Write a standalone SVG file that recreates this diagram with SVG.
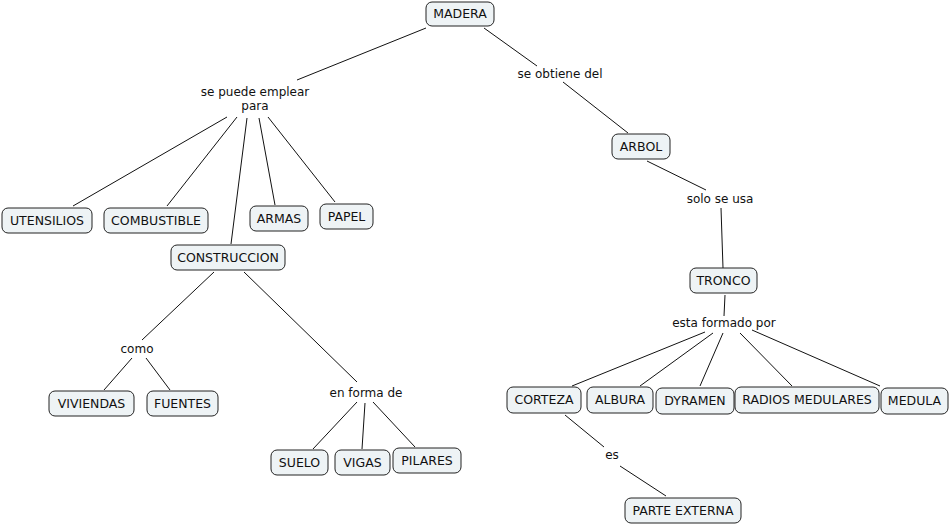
<svg xmlns="http://www.w3.org/2000/svg" width="951" height="526" viewBox="0 0 951 526">
<style>
.n rect{fill:#eef3f5;stroke:#222;stroke-width:1;}
text{font-family:"DejaVu Sans",Verdana,sans-serif;font-size:12px;fill:#111;text-anchor:middle;}
.n text{font-size:12.5px;}
.c line{stroke:#111;stroke-width:1;}
</style>
<rect width="951" height="526" fill="#fff"/>
<g class="c">
<line x1="426" y1="28" x2="297" y2="80"/>
<line x1="484" y1="28" x2="537" y2="66"/>
<line x1="563" y1="82" x2="628" y2="133"/>
<line x1="647" y1="161" x2="706" y2="190"/>
<line x1="721" y1="208" x2="723" y2="268"/>
<line x1="725" y1="295" x2="724" y2="316"/>
<line x1="705" y1="332" x2="572" y2="386"/>
<line x1="713" y1="333" x2="640" y2="386"/>
<line x1="723" y1="333" x2="700" y2="386"/>
<line x1="740" y1="333" x2="792" y2="386"/>
<line x1="752" y1="330" x2="880" y2="386"/>
<line x1="565" y1="415" x2="604" y2="447"/>
<line x1="620" y1="466" x2="666" y2="496"/>
<line x1="227" y1="117" x2="73" y2="206"/>
<line x1="237" y1="117" x2="167" y2="206"/>
<line x1="247" y1="118" x2="231" y2="244"/>
<line x1="259" y1="118" x2="275" y2="205"/>
<line x1="268" y1="117" x2="335" y2="202"/>
<line x1="214" y1="272" x2="142" y2="340"/>
<line x1="132" y1="358" x2="104" y2="390"/>
<line x1="146" y1="358" x2="170" y2="390"/>
<line x1="244" y1="272" x2="357" y2="382"/>
<line x1="357" y1="402" x2="313" y2="449"/>
<line x1="365" y1="403" x2="362" y2="449"/>
<line x1="373" y1="402" x2="415" y2="447"/>
</g>
<g id="labels">
<text x="255" y="96">se puede emplear</text>
<text x="255" y="110">para</text>
<text x="560" y="78">se obtiene del</text>
<text x="720" y="203">solo se usa</text>
<text x="724" y="327">esta formado por</text>
<text x="137" y="353">como</text>
<text x="366" y="397">en forma de</text>
<text x="612" y="459">es</text>
</g>
<g id="madera" class="n"><rect x="426" y="2" width="68" height="24" rx="6"/><text x="460" y="18">MADERA</text></g>
<g id="utensilios" class="n"><rect x="2" y="208" width="90" height="25" rx="6"/><text x="47" y="225">UTENSILIOS</text></g>
<g id="combustible" class="n"><rect x="104" y="208" width="104" height="25" rx="6"/><text x="156" y="225">COMBUSTIBLE</text></g>
<g id="armas" class="n"><rect x="250" y="206" width="58" height="25" rx="6"/><text x="279" y="223">ARMAS</text></g>
<g id="papel" class="n"><rect x="320" y="204" width="53" height="25" rx="6"/><text x="346.5" y="221">PAPEL</text></g>
<g id="construccion" class="n"><rect x="171" y="245" width="114" height="25" rx="6"/><text x="228" y="262">CONSTRUCCION</text></g>
<g id="arbol" class="n"><rect x="612" y="134" width="58" height="25" rx="6"/><text x="641" y="151">ARBOL</text></g>
<g id="tronco" class="n"><rect x="690" y="268" width="67" height="25" rx="6"/><text x="723.5" y="285">TRONCO</text></g>
<g id="corteza" class="n"><rect x="507" y="387" width="74" height="26" rx="6"/><text x="544" y="404">CORTEZA</text></g>
<g id="albura" class="n"><rect x="587" y="387" width="66" height="26" rx="6"/><text x="620" y="404">ALBURA</text></g>
<g id="dyramen" class="n"><rect x="656" y="388" width="78" height="26" rx="6"/><text x="695" y="405">DYRAMEN</text></g>
<g id="radios" class="n"><rect x="735" y="387" width="144" height="26" rx="6"/><text x="807" y="404">RADIOS MEDULARES</text></g>
<g id="medula" class="n"><rect x="881" y="388" width="67" height="26" rx="6"/><text x="914.5" y="405">MEDULA</text></g>
<g id="viviendas" class="n"><rect x="49" y="391" width="85" height="25" rx="6"/><text x="91.5" y="408">VIVIENDAS</text></g>
<g id="fuentes" class="n"><rect x="147" y="391" width="71" height="25" rx="6"/><text x="182.5" y="408">FUENTES</text></g>
<g id="suelo" class="n"><rect x="271" y="450" width="57" height="25" rx="6"/><text x="299.5" y="467">SUELO</text></g>
<g id="vigas" class="n"><rect x="335" y="450" width="55" height="25" rx="6"/><text x="362.5" y="467">VIGAS</text></g>
<g id="pilares" class="n"><rect x="393" y="448" width="68" height="25" rx="6"/><text x="427" y="465">PILARES</text></g>
<g id="parte_externa" class="n"><rect x="625" y="498" width="116" height="25" rx="6"/><text x="683" y="515">PARTE EXTERNA</text></g>
</svg>
